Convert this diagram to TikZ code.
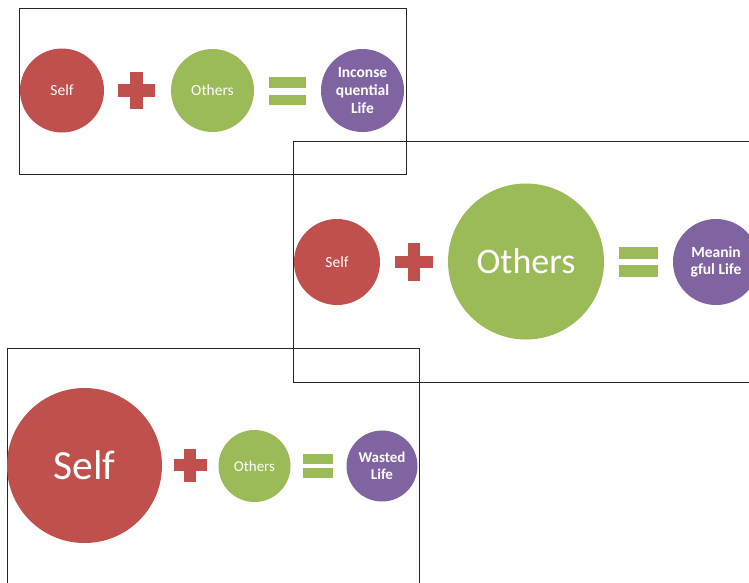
\documentclass[tikz,border=0pt]{standalone}
\usepackage{fontspec}
\setmainfont{Carlito}
\definecolor{ored}{HTML}{C0504D}
\definecolor{ogreen}{HTML}{9BBB59}
\definecolor{opurple}{HTML}{8064A2}
\newcommand{\fs}[2]{\fontsize{#1}{#2}\selectfont}
\tikzset{
  ball/.style={circle, inner sep=0pt, outer sep=0pt, text=white, align=center},
  framebox/.style={draw=black!85, line width=1pt},
  pics/plussign/.style n args={2}{code={
    \fill[ored] (-#1/2,-#2/2) rectangle (#1/2,#2/2);
    \fill[ored] (-#2/2,-#1/2) rectangle (#2/2,#1/2);
  }},
  pics/eqsign/.style n args={3}{code={
    \fill[ogreen] (-#1/2,-#3/2-#2) rectangle (#1/2,-#3/2);
    \fill[ogreen] (-#1/2,#3/2) rectangle (#1/2,#3/2+#2);
  }},
}
\begin{document}
\begin{tikzpicture}[x=1pt,y=-1pt]
\useasboundingbox (0,0) rectangle (749,582);
\clip (0,0) rectangle (749,582);
\fill[white] (0,0) rectangle (749,582);

% frames
\draw[framebox] (19,8) rectangle (406,174);
\draw[framebox] (293,141) rectangle (760,382);
\draw[framebox] (7,348) rectangle (419,600);

% row 1
\node[ball, fill=ored, minimum size=84pt, font=\fs{15.5}{18}] (s1) at (62,90.5) {Self};
\pic at (136.5,90.5) {plussign={37}{12.5}};
\node[ball, fill=ogreen, minimum size=83pt, font=\fs{15.5}{18}] (o1) at (212.5,90.5) {Others};
\pic at (287.5,91) {eqsign={37}{10.5}{7}};
\node[ball, fill=opurple, minimum size=83pt, font=\bfseries\fs{15.5}{18}] (r1) at (362.5,90.5) {Inconse\\quential\\Life};

% row 2
\node[ball, fill=ored, minimum size=86pt, font=\fs{15.5}{18}] (s2) at (337,262) {Self};
\pic at (414,262) {plussign={38}{12.5}};
\node[ball, fill=ogreen, minimum size=156pt, font=\fs{36}{40}] (o2) at (526,261.5) {Others};
\pic at (638.5,262) {eqsign={39}{12}{6}};
\node[ball, fill=opurple, minimum size=86pt, font=\bfseries\fs{15.5}{17.7}] (r2) at (716,262) {Meanin\\gful Life};

% row 3
\node[ball, fill=ored, minimum size=155pt, font=\fs{41.5}{45}] (s3) at (84.5,465.5) {Self};
\pic at (190,465) {plussign={33}{11.5}};
\node[ball, fill=ogreen, minimum size=72pt, font=\fs{15}{17}] (o3) at (254.5,466) {Others};
\pic at (318,466) {eqsign={30}{10}{4}};
\node[ball, fill=opurple, minimum size=71pt, font=\bfseries\fs{15}{17.3}] (r3) at (382,466) {Wasted\\Life};
\end{tikzpicture}
\end{document}
